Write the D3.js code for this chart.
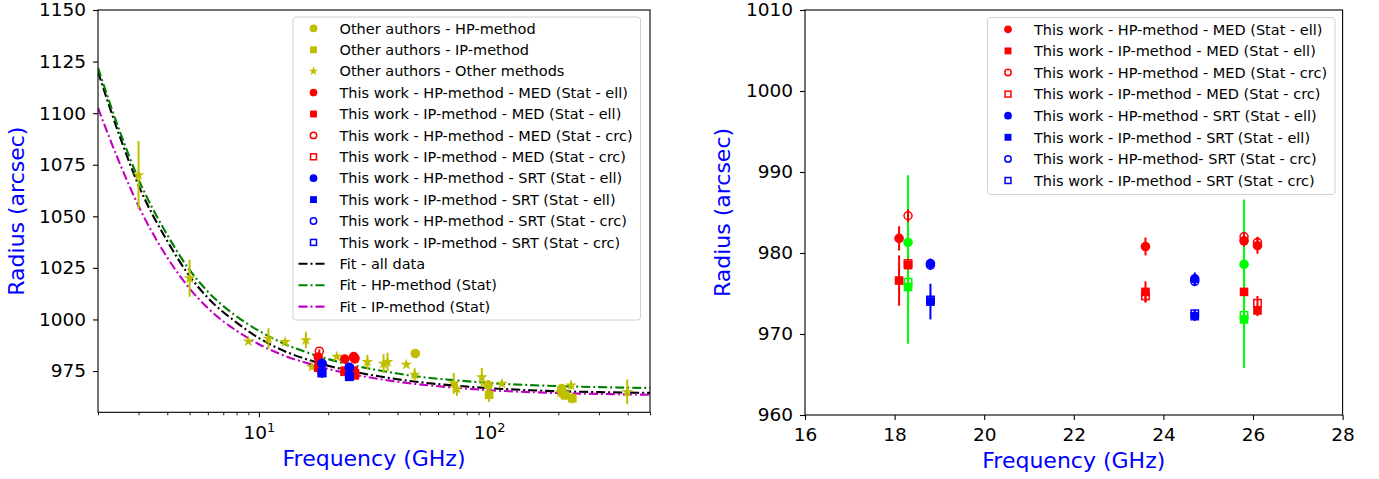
<!DOCTYPE html>
<html>
<head>
<meta charset="utf-8">
<script src="https://cdn.jsdelivr.net/npm/d3@7"></script>
<style>
  html, body { margin: 0; padding: 0; background: #fff; }
  svg { display: block; font-family: "DejaVu Sans", sans-serif; }
</style>
</head>
<body>
<svg id="chart" width="1379" height="479"></svg>
<script>
// ---------- data ----------
// Other authors: [frequency GHz, radius arcsec, error]
const otherHP = [[47.8, 983.5, 0], [99, 968.2, 2.5], [207, 966.5, 1.5]];
const otherIP = [[100, 963.5, 3.5], [214, 963.2, 2], [230, 961.8, 2.5]];
const otherOther = [
  [3, 1070, 16.5], [5, 1020, 9], [9, 989.4, 0], [11, 990.7, 5], [13, 989.1, 0],
  [16, 990, 4], [17, 977, 0], [21.8, 982, 0], [29.6, 979.4, 3.5], [34.8, 978.6, 4.5],
  [36.2, 979.4, 4.5], [43.7, 978.1, 0], [47.5, 973.3, 3], [70.2, 969, 5],
  [72.5, 966.5, 3.5], [93, 972, 4.5], [113.7, 968.9, 0], [204, 964.5, 2.5],
  [227, 968.1, 2], [398, 964.9, 6]
];

// This work
const hpMedEll = [[18.1, 981.8, 1.5], [23.6, 980.8, 1.1], [25.8, 981.5, 0.7], [26.1, 980.9, 1.0]];
const ipMedEll = [[18.1, 976.6, 3.1], [18.3, 978.5, 0.5], [23.6, 975.2, 1.3], [25.8, 975.2, 0.5], [26.1, 972.9, 0.7]];
const hpMedCrc = [[18.3, 984.6, 0.8], [25.8, 982.0, 0.5], [26.1, 981.3, 0.7]];
const ipMedCrc = [[18.3, 978.7, 0.6], [23.6, 974.7, 0.8], [26.1, 973.8, 0.9]];
const hpSrtEll = [[18.8, 978.7, 0.6], [24.7, 976.8, 0.8]];
const ipSrtEll = [[18.8, 974.0, 2.2], [24.7, 972.2, 0.6]];
const hpSrtCrc = [[18.8, 978.5, 0.5], [24.7, 976.5, 0.6]];
const ipSrtCrc = [[18.8, 974.2, 0.6], [24.7, 972.5, 0.5]];

// MED combined values (right panel only)
const medAllCircle = [[18.3, 981.3, 8.3], [25.8, 978.6, 8.0]];
const medAllSquare = [[18.3, 975.8, 7.0], [25.8, 971.8, 6.0]];
const medAllSquareOpen = [[18.3, 976.4, 0], [25.8, 972.3, 0]];

// Fitted curves sampled along frequency
const fitFreq = [2, 2.5, 3, 4, 5, 6, 8, 10, 13, 16, 20, 25, 30, 40, 50, 70, 100, 150, 200, 300, 500];
const fitAll = [1120, 1088, 1065, 1038, 1021, 1010.5, 998.5, 991, 984.5, 980.8, 977.6, 975, 973.3, 971, 969.6, 968, 966.7, 965.7, 965.2, 964.8, 964.4];
const fitHP  = [1122, 1090.5, 1068, 1041, 1024, 1013.5, 1001.5, 994.5, 988, 984.2, 980.8, 978, 976.2, 973.8, 972.2, 970.6, 969.2, 968.2, 967.7, 967.2, 966.8];
const fitIP  = [1102.5, 1075, 1055, 1030, 1015, 1005.5, 994.5, 988, 982.3, 979, 976, 973.5, 972, 969.8, 968.5, 967, 965.7, 964.8, 964.3, 963.9, 963.5];

// Tick values
const leftYTicks = [975, 1000, 1025, 1050, 1075, 1100, 1125, 1150];
const leftXMajor = [10, 100];
const leftXMinor = [2, 3, 4, 5, 6, 7, 8, 9, 20, 30, 40, 50, 60, 70, 80, 90, 200, 300, 400, 500];
const rightYTicks = [960, 970, 980, 990, 1000, 1010];
const rightXTicks = [16, 18, 20, 22, 24, 26, 28];

// ---------- style ----------
const C = {
  yel: "#bfbf00", red: "#ff0000", blue: "#0000ff", lime: "#00ff00",
  black: "#000000", green: "#008000", mag: "#bf00bf"
};
const DASHDOT = "9,3,2,3";
const TICK_FONT = 18.5;
const LABEL_FONT = 22;

const svg = d3.select("#chart");

// ---------- scales ----------
const L = { x0: 98, x1: 650, y0: 10, y1: 412.3 };
const R = { x0: 805, x1: 1342.6, y0: 10, y1: 415 };
const xL = d3.scaleLog().domain([2, 500]).range([L.x0, L.x1]);
const yL = d3.scaleLinear().domain([955, 1150]).range([L.y1, L.y0]);
const xR = d3.scaleLinear().domain([16, 28]).range([R.x0, R.x1]);
const yR = d3.scaleLinear().domain([960, 1010]).range([R.y1, R.y0]);

// clip paths
const defs = svg.append("defs");
defs.append("clipPath").attr("id", "clipL").append("rect")
  .attr("x", L.x0).attr("y", L.y0).attr("width", L.x1 - L.x0).attr("height", L.y1 - L.y0);
defs.append("clipPath").attr("id", "clipR").append("rect")
  .attr("x", R.x0).attr("y", R.y0).attr("width", R.x1 - R.x0).attr("height", R.y1 - R.y0);

// ---------- marker helper ----------
// open markers are hollow (no face colour)
function marker(g, shape, cx, cy, color, filled, s) {
  s = s || 1;
  const fill = filled ? color : "none";
  if (shape === "circle") {
    g.append("circle").attr("cx", cx).attr("cy", cy).attr("r", filled ? 4.8 * s : 4.0 * s)
      .attr("fill", fill).attr("stroke", color).attr("stroke-width", filled ? 0 : 1.5);
  } else if (shape === "square") {
    const h = (filled ? 8.6 : 7.4) * s;
    g.append("rect").attr("x", cx - h / 2).attr("y", cy - h / 2).attr("width", h).attr("height", h)
      .attr("fill", fill).attr("stroke", color).attr("stroke-width", filled ? 0 : 1.5);
  } else if (shape === "star") {
    g.append("path").attr("d", d3.symbol(d3.symbolStar, 42 * s * s)())
      .attr("transform", `translate(${cx},${cy})`).attr("fill", fill);
  }
}

function series(g, xs, ys, data, shape, color, filled) {
  const eg = g.append("g");
  data.forEach(d => {
    if (d[2] > 0) {
      eg.append("line").attr("x1", xs(d[0])).attr("x2", xs(d[0]))
        .attr("y1", ys(d[1] - d[2])).attr("y2", ys(d[1] + d[2]))
        .attr("stroke", color).attr("stroke-width", 2);
    }
  });
  data.forEach(d => marker(g, shape, xs(d[0]), ys(d[1]), color, filled));
}

function styleAxis(g) {
  g.select(".domain").remove();
  g.selectAll(".tick line").attr("stroke", "#000").attr("stroke-width", 1.1);
  g.selectAll(".tick text").attr("font-size", TICK_FONT).attr("fill", "#000")
    .attr("font-family", "DejaVu Sans");
}

// ---------- left panel ----------
const gL = svg.append("g");
const plotL = gL.append("g").attr("clip-path", "url(#clipL)");

const line = d3.line().x(d => xL(d[0])).y(d => yL(d[1])).curve(d3.curveMonotoneX);
[[fitAll, C.black], [fitHP, C.green], [fitIP, C.mag]].forEach(([vals, col]) => {
  plotL.append("path").datum(fitFreq.map((f, i) => [f, vals[i]]))
    .attr("d", line).attr("fill", "none").attr("stroke", col)
    .attr("stroke-width", 2.1).attr("stroke-dasharray", DASHDOT);
});

series(plotL, xL, yL, otherHP, "circle", C.yel, true);
series(plotL, xL, yL, otherIP, "square", C.yel, true);
series(plotL, xL, yL, otherOther, "star", C.yel, true);
series(plotL, xL, yL, hpMedEll, "circle", C.red, true);
series(plotL, xL, yL, ipMedEll, "square", C.red, true);
series(plotL, xL, yL, hpMedCrc, "circle", C.red, false);
series(plotL, xL, yL, ipMedCrc, "square", C.red, false);
series(plotL, xL, yL, hpSrtEll, "circle", C.blue, true);
series(plotL, xL, yL, ipSrtEll, "square", C.blue, true);
series(plotL, xL, yL, hpSrtCrc, "circle", C.blue, false);
series(plotL, xL, yL, ipSrtCrc, "square", C.blue, false);

// left axes
const axYL = gL.append("g").attr("transform", `translate(${L.x0},0)`)
  .call(d3.axisLeft(yL).tickValues(leftYTicks).tickSize(5).tickPadding(7).tickFormat(d3.format("d")));
styleAxis(axYL);
const axXL = gL.append("g").attr("transform", `translate(0,${L.y1})`)
  .call(d3.axisBottom(xL).tickValues(leftXMajor).tickSize(5).tickPadding(9).tickFormat(""));
styleAxis(axXL);
axXL.selectAll(".tick text").each(function (d) {
  const t = d3.select(this);
  t.text(null);
  t.append("tspan").text("10");
  t.append("tspan").attr("font-size", 12.9).attr("dy", -7.5).text(String(Math.round(Math.log10(d))));
});
const axXLm = gL.append("g").attr("transform", `translate(0,${L.y1})`)
  .call(d3.axisBottom(xL).tickValues(leftXMinor).tickSize(3).tickFormat(""));
styleAxis(axXLm);
axXLm.selectAll(".tick line").attr("stroke-width", 0.9);

gL.append("rect").attr("x", L.x0).attr("y", L.y0).attr("width", L.x1 - L.x0).attr("height", L.y1 - L.y0)
  .attr("fill", "none").attr("stroke", "#000").attr("stroke-width", 1.1);

gL.append("text").attr("x", (L.x0 + L.x1) / 2).attr("y", 466).attr("text-anchor", "middle")
  .attr("font-size", LABEL_FONT).attr("fill", C.blue).text("Frequency (GHz)");
gL.append("text").attr("transform", `translate(23.5,${(L.y0 + L.y1) / 2}) rotate(-90)`)
  .attr("text-anchor", "middle").attr("font-size", LABEL_FONT).attr("fill", C.blue).text("Radius (arcsec)");

// ---------- right panel ----------
const gR = svg.append("g");
const plotR = gR.append("g").attr("clip-path", "url(#clipR)");

series(plotR, xR, yR, medAllCircle, "circle", C.lime, true);
series(plotR, xR, yR, medAllSquareOpen, "square", C.lime, false);
series(plotR, xR, yR, medAllSquare, "square", C.lime, true);
series(plotR, xR, yR, hpMedEll, "circle", C.red, true);
series(plotR, xR, yR, ipMedEll, "square", C.red, true);
series(plotR, xR, yR, hpMedCrc, "circle", C.red, false);
series(plotR, xR, yR, ipMedCrc, "square", C.red, false);
series(plotR, xR, yR, hpSrtEll, "circle", C.blue, true);
series(plotR, xR, yR, ipSrtEll, "square", C.blue, true);
series(plotR, xR, yR, hpSrtCrc, "circle", C.blue, false);
series(plotR, xR, yR, ipSrtCrc, "square", C.blue, false);

const axYR = gR.append("g").attr("transform", `translate(${R.x0},0)`)
  .call(d3.axisLeft(yR).tickValues(rightYTicks).tickSize(5).tickPadding(7).tickFormat(d3.format("d")));
styleAxis(axYR);
const axXR = gR.append("g").attr("transform", `translate(0,${R.y1})`)
  .call(d3.axisBottom(xR).tickValues(rightXTicks).tickSize(5).tickPadding(8).tickFormat(d3.format("d")));
styleAxis(axXR);

gR.append("rect").attr("x", R.x0).attr("y", R.y0).attr("width", R.x1 - R.x0).attr("height", R.y1 - R.y0)
  .attr("fill", "none").attr("stroke", "#000").attr("stroke-width", 1.1);

gR.append("text").attr("x", (R.x0 + R.x1) / 2).attr("y", 468).attr("text-anchor", "middle")
  .attr("font-size", LABEL_FONT).attr("fill", C.blue).text("Frequency (GHz)");
gR.append("text").attr("transform", `translate(730,${(R.y0 + R.y1) / 2}) rotate(-90)`)
  .attr("text-anchor", "middle").attr("font-size", LABEL_FONT).attr("fill", C.blue).text("Radius (arcsec)");

// ---------- legends ----------
const legendLeft = [
  ["Other authors - HP-method", "circle", C.yel, true],
  ["Other authors - IP-method", "square", C.yel, true],
  ["Other authors - Other methods", "star", C.yel, true],
  ["This work - HP-method - MED (Stat - ell)", "circle", C.red, true],
  ["This work - IP-method - MED (Stat - ell)", "square", C.red, true],
  ["This work - HP-method - MED (Stat - crc)", "circle", C.red, false],
  ["This work - IP-method - MED (Stat - crc)", "square", C.red, false],
  ["This work - HP-method - SRT (Stat - ell)", "circle", C.blue, true],
  ["This work - IP-method - SRT (Stat - ell)", "square", C.blue, true],
  ["This work - HP-method - SRT (Stat - crc)", "circle", C.blue, false],
  ["This work - IP-method - SRT (Stat - crc)", "square", C.blue, false],
  ["Fit - all data", "line", C.black],
  ["Fit - HP-method (Stat)", "line", C.green],
  ["Fit - IP-method (Stat)", "line", C.mag]
];
const legendRight = [
  ["This work - HP-method - MED (Stat - ell)", "circle", C.red, true],
  ["This work - IP-method - MED (Stat - ell)", "square", C.red, true],
  ["This work - HP-method - MED (Stat - crc)", "circle", C.red, false],
  ["This work - IP-method - MED (Stat - crc)", "square", C.red, false],
  ["This work - HP-method - SRT (Stat - ell)", "circle", C.blue, true],
  ["This work - IP-method - SRT (Stat - ell)", "square", C.blue, true],
  ["This work - HP-method- SRT (Stat - crc)", "circle", C.blue, false],
  ["This work - IP-method - SRT (Stat - crc)", "square", C.blue, false]
];

function legend(x0, y0, x1, y1, entries, rowY0, rowStep) {
  const g = svg.append("g");
  g.append("rect").attr("x", x0 + 0.5).attr("y", y0 + 0.5).attr("width", x1 - x0).attr("height", y1 - y0)
    .attr("rx", 3).attr("fill", "#fff").attr("fill-opacity", 0.8).attr("stroke", "#d0d0d0").attr("stroke-width", 1);
  entries.forEach((e, i) => {
    const cy = rowY0 + i * rowStep;
    const mx = x0 + 21;
    if (e[1] === "line") {
      g.append("line").attr("x1", mx - 15).attr("x2", mx + 14).attr("y1", cy).attr("y2", cy)
        .attr("stroke", e[2]).attr("stroke-width", 2.1).attr("stroke-dasharray", DASHDOT);
    } else {
      marker(g, e[1], mx, cy, e[2], e[3], 0.8);
    }
    g.append("text").attr("x", x0 + 47).attr("y", cy + 5.2).attr("font-size", 14.5).attr("fill", "#000")
      .text(e[0]);
  });
}
legend(292.5, 16.5, 640, 319.5, legendLeft, 28.4, 21.4);
legend(987, 17, 1334.5, 194, legendRight, 29.3, 21.6);
</script>
</body>
</html>
